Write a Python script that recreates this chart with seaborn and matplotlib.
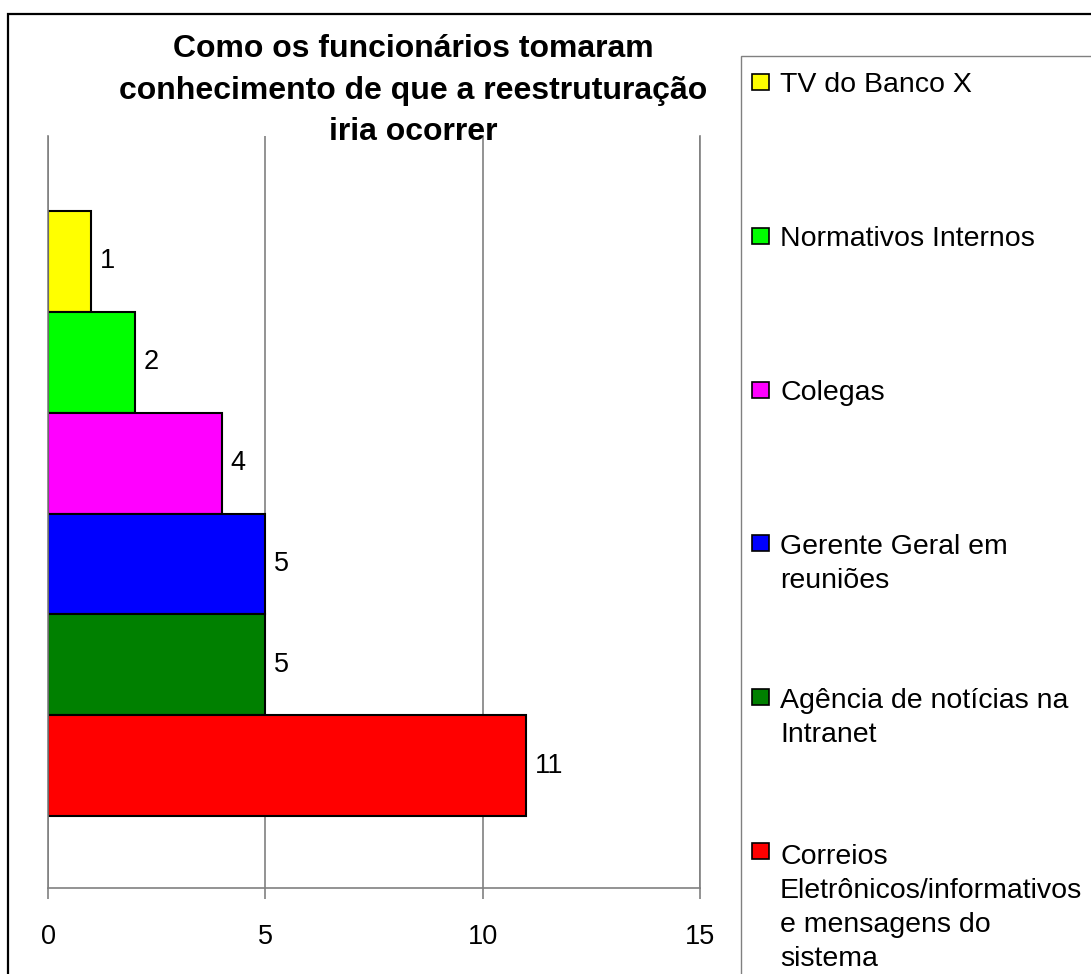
import matplotlib
matplotlib.use("Agg")
import matplotlib.pyplot as plt
from matplotlib.patches import Rectangle
import seaborn as sns
import pandas as pd

# data, top bar first
categorias = ["TV do Banco X", "Normativos Internos", "Colegas",
              "Gerente Geral em\nreuniões", "Agência de notícias na\nIntranet",
              "Correios\nEletrônicos/informativos\ne mensagens do\nsistema"]
valores = [1, 2, 4, 5, 5, 11]
cores = ["#FFFF00", "#00FF00", "#FF00FF", "#0000FF", "#008000", "#FF0000"]
xticks = [0, 5, 10, 15]
titulo = "Como os funcionários tomaram\nconhecimento de que a reestruturação\niria ocorrer"

W, H = 1091, 974
sns.set_style("white")
plt.rcParams["font.family"] = ["Liberation Sans", "DejaVu Sans"]
plt.rcParams["text.color"] = "black"
plt.rcParams["xtick.labelcolor"] = "black"

df = pd.DataFrame({"cat": categorias, "val": valores})
paleta = dict(zip(categorias, cores))

fig = plt.figure(figsize=(W / 100, H / 100), dpi=100)
ax = fig.add_axes([48 / W, 1 - 888 / H, 652 / W, (888 - 136) / H])

sns.barplot(data=df, x="val", y="cat", hue="cat", palette=paleta, order=categorias,
            hue_order=categorias, width=1.0, orient="h", legend=False,
            edgecolor="black", linewidth=1.5, saturation=1, ax=ax)

for cont in ax.containers:
    ax.bar_label(cont, padding=6, fontsize=19.5, color="black")

ax.set_xlim(0, 15)
ax.set_ylim(6.214, -1.244)
ax.set_xticks(xticks)
ax.set_yticks([])
ax.set_xlabel("")
ax.set_ylabel("")
ax.tick_params(axis="x", direction="out", length=8, width=1.2, color="#808080",
               labelsize=19.5, pad=18, bottom=True)
ax.grid(axis="x", color="#808080", linewidth=1.2)
ax.set_axisbelow(True)
ax.spines["top"].set_visible(False)
for s in ["left", "right", "bottom"]:
    ax.spines[s].set_color("#808080")
    ax.spines[s].set_linewidth(1.2)

# multi-line texts: matplotlib puts the last line on the baseline
def texto(x, base1, s, dy, size, ls, **kw):
    n = s.count("\n")
    fig.text(x / W, 1 - (base1 + n * dy) / H, s, va="baseline", fontsize=size,
             linespacing=ls, **kw)

texto(413, 58, titulo, 41, 23, 1.5, ha="center", fontweight="bold")

# outer border of the chart area
fig.add_artist(Rectangle((8 / W, -0.1), 1.2, 1.1 - 14 / H, transform=fig.transFigure,
                         fill=False, edgecolor="black", linewidth=1.6))

# legend box (runs past the image edge, as in the original)
fig.add_artist(Rectangle((741 / W, -0.1), 1.0, 1.1 - 56 / H, transform=fig.transFigure,
                         fill=False, edgecolor="#808080", linewidth=1.0))
base0, passo = 92, 153.8
for i, (rot, cor) in enumerate(zip(categorias, cores)):
    b = base0 + i * passo
    fig.add_artist(Rectangle((752 / W, 1 - (b - 2) / H), 17 / W, 16 / H,
                             transform=fig.transFigure, facecolor=cor,
                             edgecolor="black", linewidth=1.2))
    texto(780, b, rot, 35, 20.5, 1.4, ha="left")

fig.savefig("out.png", dpi=100)
